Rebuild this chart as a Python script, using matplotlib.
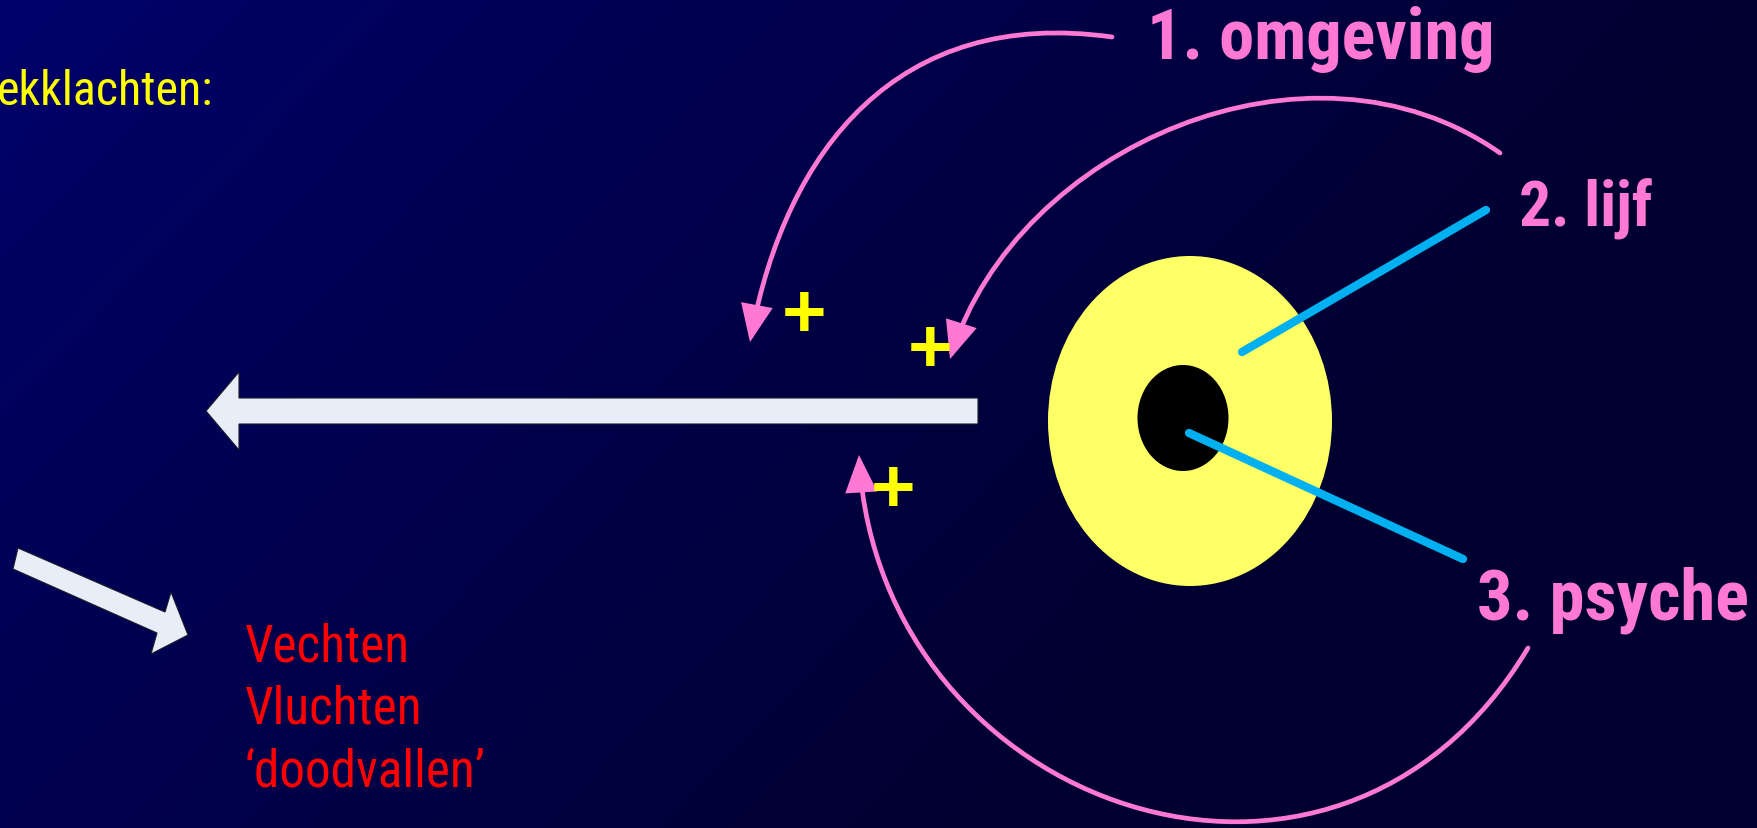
import numpy as np
import matplotlib
matplotlib.use("Agg")
import matplotlib.pyplot as plt
from matplotlib import font_manager
from matplotlib.patches import Ellipse, Polygon, FancyArrowPatch
from matplotlib.path import Path

# ---------------- content ----------------
W, H = 1758, 829

top_text = "ekklachten:"
response_lines = ["Vechten", "Vluchten", "\u2018doodvallen\u2019"]
factor_labels = ["1. omgeving", "2. lijf", "3. psyche"]
plus_sign = "+"

# label anchor points (left, baseline) in pixel space and measured widths
label_pos = [(1147, 59), (1519, 225), (1477, 619)]
label_widths = [348, 134, 272]
response_x = 245
response_baselines = [661, 723, 787]
response_widths = [164, 182, 234]
top_text_pos = (213, 105)
top_text_width = 216
plus_pos = [(804, 317), (930, 352), (893, 493)]

# feedback arcs: waypoints (start -> arrow tip)
arc_omgeving = [(1112, 38), (1053, 33), (987, 43), (920, 67), (870, 100),
                (830, 143), (800, 193), (777, 250), (760, 300), (750, 343)]
arc_lijf = [(1500, 154), (1420, 115), (1310, 98), (1233, 110), (1167, 135),
            (1100, 167), (1050, 207), (1007, 253), (977, 300), (950, 360)]
arc_psyche = [(1528, 649), (1500, 690), (1460, 737), (1400, 780), (1350, 802),
              (1300, 815), (1230, 823), (1153, 812), (1087, 787), (1020, 753),
              (970, 713), (937, 673), (907, 620), (887, 570), (870, 520),
              (862, 483), (859, 456)]

# big block arrow (left) and small diagonal block arrow
big_arrow = [(206, 412), (239, 373), (239, 399), (978, 399), (978, 425),
             (239, 425), (239, 451)]
small_arrow = [(18, 549), (165, 613), (171, 593), (188, 636), (151, 655),
               (157, 634), (13, 570)]

# yellow disc with black core
outer_ellipse = dict(center=(1190, 422), w=284, h=330)
inner_ellipse = dict(center=(1183, 419), w=91, h=106)

# cyan pointer lines
pointer_lines = [((1242, 353), (1486, 211)), ((1189, 434), (1463, 560))]

# colours
PINK = "#FF79D4"
YELLOW_TXT = "#FFFF00"
RED = "#FF0000"
DISC = "#FFFF66"
CYAN = "#00B0F0"
ARROW_FILL = "#E8EEF8"

# ---------------- fonts ----------------
entries = font_manager.fontManager.ttflist
names = {f.name for f in entries}
FAMILY, STRETCH = "Liberation Sans", "normal"
for cand in ["Liberation Sans Narrow", "Arial Narrow", "Roboto Condensed",
             "Open Sans Condensed", "DejaVu Sans Condensed", "Noto Sans Condensed"]:
    if cand in names:
        FAMILY, STRETCH = cand, "normal"
        break
else:
    for fam in ["Liberation Sans", "Roboto", "Open Sans", "Noto Sans", "DejaVu Sans"]:
        hit = [f for f in entries if f.name == fam and f.stretch in
               ("condensed", "semi-condensed", "extra-condensed")]
        if hit:
            FAMILY, STRETCH = fam, hit[0].stretch
            break
plt.rcParams["font.family"] = [FAMILY, "DejaVu Sans"]

# ---------------- figure ----------------
fig = plt.figure(figsize=(W / 100, H / 100), dpi=100)
ax = fig.add_axes([0, 0, 1, 1])
ax.set_xlim(0, W)
ax.set_ylim(H, 0)
ax.axis("off")

# background gradient
gx = np.linspace(0, 1, 240)
gy = np.linspace(0, 1, 120)
X, Y = np.meshgrid(gx, gy)
blue = np.clip(106 - 58 * X - 26 * Y, 48, 255) / 255.0
img = np.zeros((len(gy), len(gx), 3))
img[..., 2] = blue
ax.imshow(img, extent=(0, W, H, 0), aspect="auto", interpolation="bilinear", zorder=0)


def bez(P, t):
    t = np.asarray(t)[:, None]
    return ((1 - t) ** 3) * P[0] + 3 * ((1 - t) ** 2) * t * P[1] + \
        3 * (1 - t) * t ** 2 * P[2] + t ** 3 * P[3]


def fit_bezier(pts, iters=12):
    Q = np.asarray(pts, float)
    d = np.r_[0, np.cumsum(np.hypot(*np.diff(Q, axis=0).T))]
    t = d / d[-1]
    P0, P3 = Q[0], Q[-1]
    ts = np.linspace(0, 1, 3001)
    for _ in range(iters):
        b0 = (1 - t) ** 3
        b1 = 3 * (1 - t) ** 2 * t
        b2 = 3 * (1 - t) * t ** 2
        b3 = t ** 3
        A = np.c_[b1, b2]
        R = Q - np.outer(b0, P0) - np.outer(b3, P3)
        sol, *_ = np.linalg.lstsq(A, R, rcond=None)
        P = np.array([P0, sol[0], sol[1], P3])
        curve = bez(P, ts)
        for i in range(1, len(Q) - 1):
            t[i] = ts[np.argmin(np.hypot(*(curve - Q[i]).T))]
    return Path(P, [Path.MOVETO, Path.CURVE4, Path.CURVE4, Path.CURVE4])


for arc in (arc_omgeving, arc_lijf, arc_psyche):
    fa = FancyArrowPatch(path=fit_bezier(arc),
                         arrowstyle="-|>,head_length=2.1,head_width=0.9",
                         mutation_scale=10, lw=3.4, color=PINK,
                         capstyle="round", joinstyle="miter", zorder=3)
    ax.add_patch(fa)

# block arrows
ax.add_patch(Polygon(big_arrow, closed=True, facecolor=ARROW_FILL,
                     edgecolor="#1a1a2a", lw=0.8, zorder=2))
ax.add_patch(Polygon(small_arrow, closed=True, facecolor=ARROW_FILL,
                     edgecolor="#1a1a2a", lw=0.8, zorder=2))

# disc
ax.add_patch(Ellipse(outer_ellipse["center"], outer_ellipse["w"], outer_ellipse["h"],
                     facecolor=DISC, edgecolor="none", zorder=2))
ax.add_patch(Ellipse(inner_ellipse["center"], inner_ellipse["w"], inner_ellipse["h"],
                     facecolor="black", edgecolor="none", zorder=2))

for (p, q) in pointer_lines:
    ax.plot([p[0], q[0]], [p[1], q[1]], color=CYAN, lw=6, solid_capstyle="round", zorder=4)

renderer = fig.canvas.get_renderer()


def size_for(t, target_w, base, lo=0.6, hi=1.12):
    r = target_w / t.get_window_extent(renderer).width
    return base * float(np.clip(r, lo, hi))


t = ax.text(top_text_pos[0], top_text_pos[1], top_text, color=YELLOW_TXT,
            fontsize=38, fontstretch=STRETCH, ha="right", va="baseline", zorder=5)
t.set_fontsize(size_for(t, top_text_width, 38))

red_texts = []
for line, yb, tw in zip(response_lines, response_baselines, response_widths):
    rt = ax.text(response_x, yb, line, color=RED, fontsize=38, fontstretch=STRETCH,
                 ha="left", va="baseline", zorder=5)
    red_texts.append((rt, tw))
red_size = float(np.mean([size_for(rt, tw, 38) for rt, tw in red_texts]))
for rt, _ in red_texts:
    rt.set_fontsize(red_size)

for lab, (x, y), tw in zip(factor_labels, label_pos, label_widths):
    pt = ax.text(x, y, lab, color=PINK, fontsize=51, fontweight="bold", fontstretch=STRETCH,
                 ha="left", va="baseline", zorder=5)
    pt.set_fontsize(size_for(pt, tw, 51))

for (x, y) in plus_pos:
    ax.text(x, y, plus_sign, color=YELLOW_TXT, fontsize=55, fontweight="bold",
            family=["Liberation Sans", "DejaVu Sans"], ha="center", va="center", zorder=5)

fig.savefig("out.png", dpi=100, facecolor="#000050")
